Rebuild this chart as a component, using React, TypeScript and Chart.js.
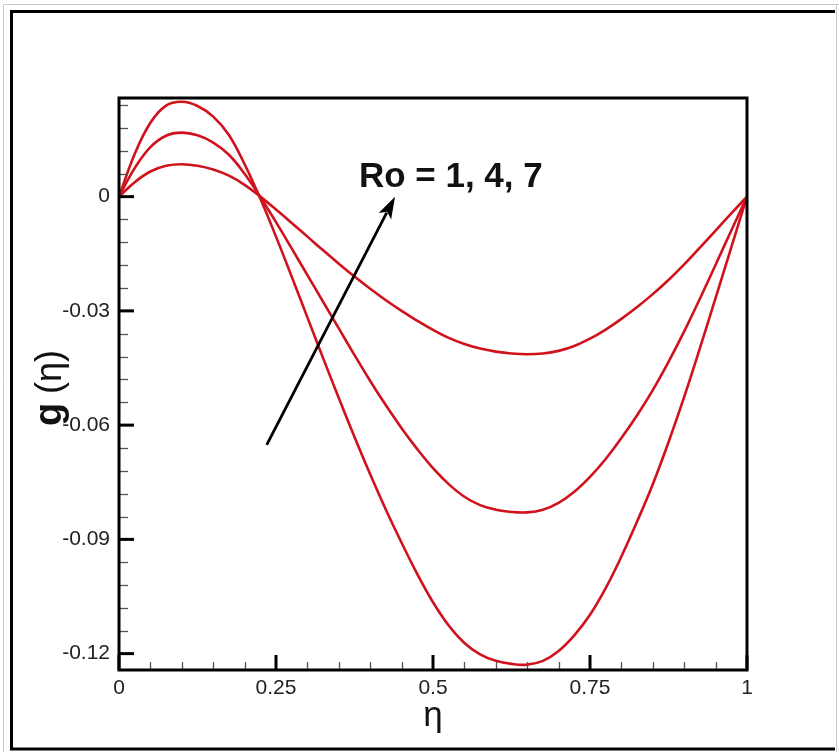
import React, { useEffect, useRef } from "react";
import { Chart, registerables } from "chart.js";

Chart.register(...registerables);

// ---- data ----
const eta = [
  0, 0.025, 0.05, 0.075, 0.1, 0.125, 0.15, 0.175, 0.2, 0.225,
  0.25, 0.275, 0.3, 0.325, 0.35, 0.375, 0.4, 0.425, 0.45, 0.475,
  0.5, 0.525, 0.55, 0.575, 0.6, 0.625, 0.65, 0.675, 0.7, 0.725,
  0.75, 0.775, 0.8, 0.825, 0.85, 0.875, 0.9, 0.925, 0.95, 0.975, 1,
];

// Ro = 1 (largest amplitude)
const gRo1 = [
  0, 0.0112, 0.0194, 0.0239, 0.0249, 0.0238, 0.021, 0.0162, 0.0085, -0.0005,
  -0.0105, -0.021, -0.0317, -0.0424, -0.0529, -0.0631, -0.0729, -0.0822, -0.0909, -0.0991,
  -0.1065, -0.1126, -0.1172, -0.1202, -0.1219, -0.1227, -0.1229, -0.1219, -0.1193, -0.1152,
  -0.1098, -0.1028, -0.0945, -0.0853, -0.0755, -0.0645, -0.0526, -0.0398, -0.0266, -0.0133, 0,
];

// Ro = 4
const gRo4 = [
  0, 0.0075, 0.013, 0.016, 0.0168, 0.0161, 0.0142, 0.011, 0.006, -0.0001,
  -0.0067, -0.0136, -0.0206, -0.0276, -0.0346, -0.0416, -0.0484, -0.0548, -0.0608, -0.0663,
  -0.0713, -0.0755, -0.0788, -0.081, -0.0822, -0.0828, -0.0829, -0.0822, -0.0804, -0.0775,
  -0.0736, -0.0689, -0.0634, -0.0574, -0.0508, -0.0434, -0.0354, -0.0268, -0.0179, -0.0089, 0,
];

// Ro = 7 (smallest amplitude)
const gRo7 = [
  0, 0.0038, 0.0066, 0.0081, 0.0085, 0.0081, 0.0071, 0.0055, 0.0031, 0,
  -0.0034, -0.0069, -0.0105, -0.0141, -0.0176, -0.021, -0.0242, -0.0272, -0.03, -0.0326,
  -0.035, -0.0371, -0.0387, -0.0399, -0.0407, -0.0412, -0.0414, -0.0412, -0.0405, -0.0392,
  -0.0373, -0.0349, -0.0321, -0.029, -0.0256, -0.0219, -0.0178, -0.0134, -0.0089, -0.0044, 0,
];

const seriesNames = ["Ro = 1", "Ro = 4", "Ro = 7"];

const xTickValues = [0, 0.25, 0.5, 0.75, 1];
const xTickLabels = ["0", "0.25", "0.5", "0.75", "1"];
const yTickValues = [-0.12, -0.09, -0.06, -0.03, 0];
const yTickLabels = ["-0.12", "-0.09", "-0.06", "-0.03", "0"];
const xMinorStep = 0.05;
const yMinorStep = 0.006;

const xMin = 0;
const xMax = 1;
const yMin = -0.1243;
const yMax = 0.0259;

const annotationLabel = "Ro = 1, 4, 7";
const annotationAnchor = { x: 0.382, y: 0.0026 };
const arrowTail = { x: 0.2352, y: -0.0652 };
const arrowTip = { x: 0.4395, y: 0.0 };

const yTitleMain = "g";
const yTitleRest = "(η)";
const xTitle = "η";

const FONT = "'Liberation Sans', Arial, Helvetica, sans-serif";
const RED = "#d0121c";

const decorPlugin = {
  id: "decor",
  afterDatasetsDraw(chart: any) {
    const ctx = chart.ctx as CanvasRenderingContext2D;
    const { left, right, top, bottom } = chart.chartArea;
    const xs = chart.scales.x;
    const ys = chart.scales.y;
    ctx.save();

    // minor ticks
    ctx.strokeStyle = "#555";
    ctx.lineWidth = 1.3;
    for (let i = -40; i <= 10; i++) {
      if (i % 5 === 0) continue;
      const v = i * yMinorStep;
      if (v < yMin || v > yMax) continue;
      const py = Math.round(ys.getPixelForValue(v)) + 0.5;
      ctx.beginPath();
      ctx.moveTo(left, py);
      ctx.lineTo(left + 9, py);
      ctx.stroke();
    }
    for (let i = 0; i <= 20; i++) {
      if (i % 5 === 0) continue;
      const v = i * xMinorStep;
      const px = Math.round(xs.getPixelForValue(v)) + 0.5;
      ctx.beginPath();
      ctx.moveTo(px, bottom);
      ctx.lineTo(px, bottom - 8);
      ctx.stroke();
    }

    // major ticks
    ctx.strokeStyle = "#000";
    ctx.lineWidth = 3;
    yTickValues.forEach((v) => {
      const py = ys.getPixelForValue(v);
      ctx.beginPath();
      ctx.moveTo(left, py);
      ctx.lineTo(left + 15, py);
      ctx.stroke();
    });
    xTickValues.forEach((v) => {
      const px = xs.getPixelForValue(v);
      ctx.beginPath();
      ctx.moveTo(px, bottom);
      ctx.lineTo(px, bottom - 15);
      ctx.stroke();
    });

    // plot box
    ctx.lineWidth = 3;
    ctx.strokeStyle = "#000";
    ctx.strokeRect(left, top, right - left, bottom - top);

    // arrow
    const tx = xs.getPixelForValue(arrowTail.x);
    const ty = ys.getPixelForValue(arrowTail.y);
    const hx = xs.getPixelForValue(arrowTip.x);
    const hy = ys.getPixelForValue(arrowTip.y);
    const ang = Math.atan2(hy - ty, hx - tx);
    const headLen = 22;
    const headHalf = 7;
    const bx = hx - headLen * Math.cos(ang);
    const by = hy - headLen * Math.sin(ang);
    ctx.strokeStyle = "#000";
    ctx.lineWidth = 2.8;
    ctx.beginPath();
    ctx.moveTo(tx, ty);
    ctx.lineTo(bx + 4 * Math.cos(ang), by + 4 * Math.sin(ang));
    ctx.stroke();
    ctx.fillStyle = "#000";
    ctx.beginPath();
    ctx.moveTo(hx, hy);
    ctx.lineTo(bx + headHalf * Math.sin(ang), by - headHalf * Math.cos(ang));
    ctx.lineTo(bx + 5 * Math.cos(ang), by + 5 * Math.sin(ang));
    ctx.lineTo(bx - headHalf * Math.sin(ang), by + headHalf * Math.cos(ang));
    ctx.closePath();
    ctx.fill();

    // annotation text
    ctx.fillStyle = "#111";
    ctx.font = `bold 35px ${FONT}`;
    ctx.textAlign = "left";
    ctx.textBaseline = "alphabetic";
    ctx.fillText(
      annotationLabel,
      xs.getPixelForValue(annotationAnchor.x),
      ys.getPixelForValue(annotationAnchor.y)
    );

    // x title
    ctx.fillStyle = "#111";
    ctx.font = `35px ${FONT}`;
    ctx.textAlign = "center";
    ctx.fillText(xTitle, (left + right) / 2, bottom + 56);

    // y title (rotated)
    ctx.save();
    ctx.translate(61, (top + bottom) / 2 + 4);
    ctx.rotate(-Math.PI / 2);
    ctx.font = `bold 38px ${FONT}`;
    const w1 = ctx.measureText(yTitleMain).width;
    ctx.font = `36px ${FONT}`;
    const gap = 9;
    const w2 = ctx.measureText(yTitleRest).width;
    const total = w1 + gap + w2;
    ctx.textAlign = "left";
    ctx.font = `bold 38px ${FONT}`;
    ctx.fillText(yTitleMain, -total / 2, 0);
    ctx.font = `36px ${FONT}`;
    ctx.fillText(yTitleRest, -total / 2 + w1 + gap, 0);
    ctx.restore();

    // outer frame
    ctx.strokeStyle = "#c8c8c8";
    ctx.lineWidth = 1;
    ctx.beginPath();
    ctx.moveTo(3.5, 752);
    ctx.lineTo(3.5, 4.5);
    ctx.lineTo(839, 4.5);
    ctx.moveTo(836.5, 4.5);
    ctx.lineTo(836.5, 752);
    ctx.stroke();
    ctx.strokeStyle = "#000";
    ctx.lineWidth = 3;
    ctx.beginPath();
    ctx.moveTo(11.5, 749);
    ctx.lineTo(11.5, 11.5);
    ctx.lineTo(835, 11.5);
    ctx.moveTo(10, 749);
    ctx.lineTo(835, 749);
    ctx.stroke();

    ctx.restore();
  },
};

export default function App() {
  const canvasRef = useRef<HTMLCanvasElement | null>(null);

  useEffect(() => {
    const canvas = canvasRef.current;
    if (!canvas) return;
    const mk = (vals: number[]) => eta.map((x, i) => ({ x, y: vals[i] }));
    const tickFont = { family: FONT, size: 21 };
    const chart = new Chart(canvas, {
      type: "line",
      data: {
        datasets: [gRo1, gRo4, gRo7].map((vals, i) => ({
          label: seriesNames[i],
          data: mk(vals),
          borderColor: RED,
          backgroundColor: RED,
          borderWidth: 2.6,
          pointRadius: 0,
          fill: false,
          tension: 0.4,
          cubicInterpolationMode: "default" as const,
        })),
      },
      options: {
        responsive: false,
        animation: false,
        devicePixelRatio: 1,
        layout: { padding: { left: 0, right: 92, top: 98, bottom: 0 } },
        plugins: {
          legend: { display: false },
          tooltip: { enabled: false },
          title: { display: false },
        },
        scales: {
          x: {
            type: "linear",
            min: xMin,
            max: xMax,
            grid: { display: false, drawTicks: false },
            border: { display: false },
            afterBuildTicks: (s: any) => {
              s.ticks = xTickValues.map((v) => ({ value: v }));
            },
            afterFit: (s: any) => {
              s.height = 82;
            },
            ticks: {
              padding: 6,
              font: tickFont,
              color: "#222",
              maxRotation: 0,
              autoSkip: false,
              callback: (_v: any, i: number) => xTickLabels[i],
            },
          },
          y: {
            type: "linear",
            min: yMin,
            max: yMax,
            grid: { display: false, drawTicks: false },
            border: { display: false },
            afterBuildTicks: (s: any) => {
              s.ticks = yTickValues.map((v) => ({ value: v }));
            },
            afterFit: (s: any) => {
              s.width = 119;
            },
            ticks: {
              padding: 9,
              font: tickFont,
              color: "#222",
              autoSkip: false,
              callback: (_v: any, i: number) => yTickLabels[i],
            },
          },
        },
      },
      plugins: [decorPlugin],
    } as any);
    return () => chart.destroy();
  }, []);

  return (
    <div
      style={{
        position: "absolute",
        left: 0,
        top: 0,
        width: 839,
        height: 752,
        background: "#fff",
      }}
    >
      <canvas ref={canvasRef} width={839} height={752} style={{ display: "block" }} />
    </div>
  );
}
